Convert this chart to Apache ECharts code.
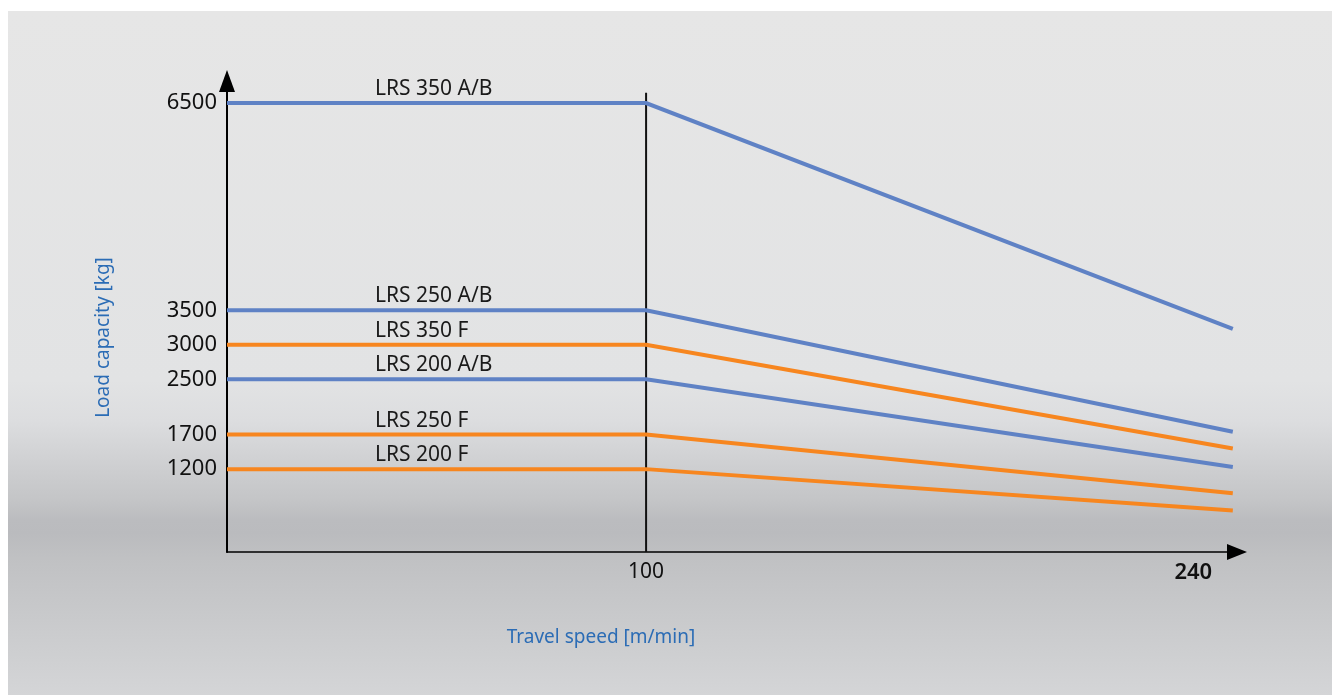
<!DOCTYPE html>
<html>
<head>
<meta charset="utf-8">
<script src="https://cdn.jsdelivr.net/npm/echarts@6/dist/echarts.min.js"></script>
<style>
  html, body { margin: 0; padding: 0; background: #ffffff; }
  #chart { width: 1332px; height: 695px; }
</style>
</head>
<body>
<div id="chart"></div>
<script>
// ---- data ----
const speeds = [0, 100, 240];               // travel speed [m/min]
const seriesNames = ['LRS 350 A/B', 'LRS 250 A/B', 'LRS 350 F', 'LRS 200 A/B', 'LRS 250 F', 'LRS 200 F'];
const capacityUpTo100 = [6500, 3500, 3000, 2500, 1700, 1200];   // load capacity [kg] 0..100 m/min
const capacityAt240 = [3230, 1740, 1500, 1230, 850, 600];       // load capacity [kg] at 240 m/min
const seriesKinds = ['AB', 'AB', 'F', 'AB', 'F', 'F'];
const yTickLabels = [1200, 1700, 2500, 3000, 3500, 6500];
const xTickLabels = [100, 240];
const dividerLine = [[100, 0], [100, 6650]];
const labelSpeed = 35.3;                    // speed where the series names start

const colors = { AB: '#5f82c5', F: '#f7861f' };
const FONT = 'Noto Sans';

const series = [];
series.push({
  type: 'line',
  data: dividerLine,
  symbol: 'none',
  silent: true,
  z: 1,
  lineStyle: { color: '#111111', width: 2 }
});
seriesNames.forEach((name, i) => {
  const v = capacityUpTo100[i];
  series.push({
    name: name,
    type: 'line',
    symbol: 'none',
    silent: true,
    z: 3,
    data: [[speeds[0], v], [speeds[1], v], [speeds[2], capacityAt240[i]]],
    lineStyle: { color: colors[seriesKinds[i]], width: 4, cap: 'butt', join: 'miter' },
    markPoint: {
      silent: true,
      symbol: 'circle',
      symbolSize: 0,
      data: [{ coord: [labelSpeed, v] }],
      label: {
        show: true,
        position: 'inside',
        align: 'left',
        offset: [0, -14],
        formatter: name,
        color: '#1a1a1a',
        fontSize: 21,
        fontFamily: FONT
      }
    }
  });
});

const chart = echarts.init(document.getElementById('chart'), null, { renderer: 'canvas' });
chart.setOption({
  animation: false,
  backgroundColor: '#ffffff',
  graphic: [{
    type: 'rect',
    z: -100,
    silent: true,
    shape: { x: 8, y: 11, width: 1324, height: 684 },
    style: {
      fill: new echarts.graphic.LinearGradient(0, 0, 0, 1, [
        { offset: 0, color: '#e6e6e6' },
        { offset: 0.54, color: '#e2e3e4' },
        { offset: 0.60, color: '#dcdddf' },
        { offset: 0.665, color: '#cecfd1' },
        { offset: 0.715, color: '#c4c5c7' },
        { offset: 0.744, color: '#bbbcbf' },
        { offset: 0.763, color: '#babbbe' },
        { offset: 0.80, color: '#c0c1c3' },
        { offset: 1, color: '#d4d5d7' }
      ])
    }
  }],
  grid: {
    left: 227, top: 81, right: 95, bottom: 143,
    containLabel: false,
    outerBoundsMode: 'none'
  },
  xAxis: {
    type: 'value',
    min: 0,
    max: 241,
    interval: 10,
    splitLine: { show: false },
    axisTick: { show: false },
    axisLine: {
      show: true,
      onZero: false,
      symbol: ['none', 'triangle'],
      symbolSize: [16, 20],
      lineStyle: { color: '#000000', width: 1.5 }
    },
    axisLabel: {
      show: true,
      margin: 10,
      color: '#111111',
      fontFamily: FONT,
      fontSize: 21,
      showMinLabel: true,
      showMaxLabel: true,
      formatter: function (val) {
        if (val === xTickLabels[0]) return '{n|' + val + '}';
        if (val === xTickLabels[1]) return '{b|' + val + '}';
        return '';
      },
      rich: {
        n: { fontSize: 21, fontFamily: FONT, color: '#111111' },
        b: { fontSize: 22, fontFamily: FONT, fontWeight: 600, color: '#111111', padding: [0, 79, 0, 0] }
      }
    },
    name: 'Travel speed [m/min]',
    nameLocation: 'middle',
    nameGap: 76,
    nameTextStyle: {
      color: '#2b6cb5',
      fontSize: 19,
      fontFamily: FONT,
      padding: [0, 262, 0, 0]
    }
  },
  yAxis: {
    type: 'value',
    min: 0,
    max: 6820,
    interval: 100,
    splitLine: { show: false },
    axisTick: { show: false },
    axisLine: {
      show: true,
      onZero: false,
      symbol: ['none', 'triangle'],
      symbolSize: [16, 22],
      lineStyle: { color: '#000000', width: 2 }
    },
    axisLabel: {
      show: true,
      margin: 10,
      color: '#111111',
      fontFamily: FONT,
      fontSize: 22,
      formatter: function (val) {
        return yTickLabels.indexOf(val) >= 0 ? String(val) : '';
      }
    },
    name: 'Load capacity [kg]',
    nameLocation: 'middle',
    nameGap: 114,
    nameTextStyle: {
      color: '#2b6cb5',
      fontSize: 19,
      fontFamily: FONT,
      padding: [0, 42, 0, 0]
    }
  },
  series: series
});
</script>
</body>
</html>
